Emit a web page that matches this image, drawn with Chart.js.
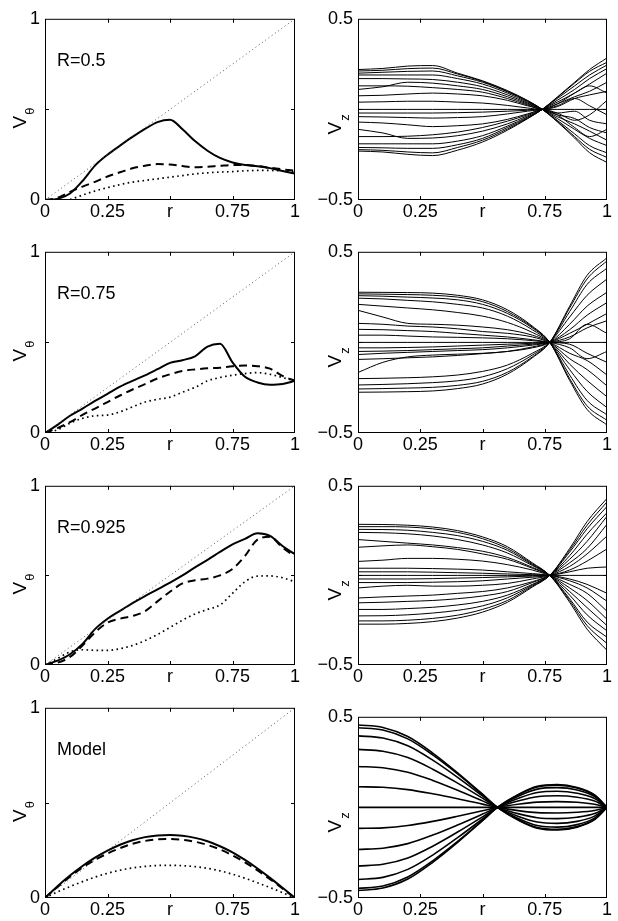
<!DOCTYPE html>
<html>
<head>
<meta charset="UTF-8" />
<script src="https://cdn.jsdelivr.net/npm/chart.js"></script>
<title>V_theta and V_z profiles</title>
<style>
  body { margin: 0; background: #fff; overflow: hidden; }
  #fig { position: relative; width: 618px; height: 921px; }
  #fig canvas { position: absolute; }
</style>
</head>
<body>
<div id="fig"></div>
<script>
// ---- data ----
const rV = [0, 0.05, 0.1, 0.15, 0.2, 0.25, 0.3, 0.35, 0.4, 0.45, 0.5, 0.55, 0.6, 0.65, 0.7, 0.75, 0.8, 0.85, 0.9, 0.95, 1];
const rDiag = [0, 1];
const diag = [0, 1];

const vt1Solid = [0, 0.006, 0.036, 0.105, 0.19, 0.25, 0.3, 0.348, 0.392, 0.43, 0.443, 0.39, 0.325, 0.272, 0.232, 0.207, 0.193, 0.186, 0.176, 0.16, 0.146];
const vt1Dash = [0, 0.012, 0.045, 0.074, 0.1, 0.13, 0.153, 0.175, 0.189, 0.198, 0.196, 0.187, 0.181, 0.184, 0.189, 0.193, 0.193, 0.187, 0.178, 0.169, 0.162];
const vt1Dot = [0, 0, 0.004, 0.027, 0.05, 0.068, 0.085, 0.099, 0.108, 0.117, 0.126, 0.135, 0.144, 0.15, 0.154, 0.157, 0.161, 0.163, 0.163, 0.16, 0.155];

const vt2Solid = [0, 0.045, 0.095, 0.135, 0.177, 0.216, 0.256, 0.288, 0.318, 0.352, 0.387, 0.402, 0.423, 0.477, 0.492, 0.39, 0.31, 0.279, 0.266, 0.27, 0.288];
const vt2Dash = [0, 0.027, 0.06, 0.1, 0.135, 0.171, 0.207, 0.24, 0.27, 0.301, 0.324, 0.342, 0.351, 0.357, 0.36, 0.368, 0.372, 0.369, 0.355, 0.315, 0.288];
const vt2Dot = [0, 0.018, 0.054, 0.081, 0.095, 0.099, 0.117, 0.144, 0.171, 0.186, 0.198, 0.225, 0.252, 0.288, 0.306, 0.319, 0.328, 0.333, 0.324, 0.306, 0.288];

const vt3Solid = [0, 0.024, 0.06, 0.118, 0.2, 0.258, 0.302, 0.345, 0.385, 0.422, 0.46, 0.5, 0.545, 0.587, 0.631, 0.673, 0.704, 0.735, 0.72, 0.664, 0.618];
const vt3Dash = [0, 0.013, 0.045, 0.109, 0.182, 0.236, 0.258, 0.273, 0.3, 0.355, 0.409, 0.455, 0.473, 0.482, 0.5, 0.536, 0.609, 0.7, 0.715, 0.655, 0.605];
const vt3Dot = [0, 0.036, 0.073, 0.085, 0.082, 0.082, 0.091, 0.109, 0.136, 0.17, 0.21, 0.25, 0.285, 0.31, 0.335, 0.4, 0.465, 0.496, 0.497, 0.487, 0.464];

const vtmSolid = [0, 0.062, 0.118, 0.168, 0.212, 0.249, 0.28, 0.304, 0.32, 0.329, 0.331, 0.327, 0.316, 0.298, 0.272, 0.24, 0.2, 0.155, 0.106, 0.054, 0];
const vtmDash = [0, 0.058, 0.112, 0.16, 0.2, 0.234, 0.262, 0.285, 0.3, 0.308, 0.31, 0.306, 0.296, 0.279, 0.255, 0.224, 0.187, 0.145, 0.099, 0.05, 0];
const vtmDot = [0, 0.032, 0.06, 0.086, 0.11, 0.13, 0.146, 0.158, 0.166, 0.171, 0.172, 0.17, 0.165, 0.156, 0.143, 0.125, 0.104, 0.08, 0.055, 0.028, 0];

const rZ1 = [0, 0.1, 0.2, 0.3, 0.4, 0.5, 0.6, 0.68, 0.74, 0.8, 0.87, 0.93, 1];
const vz1 = [
  [0.22, 0.226, 0.239, 0.242, 0.2, 0.158, 0.104, 0.05, 0, -0.068, -0.158, -0.239, -0.293],
  [0.212, 0.216, 0.225, 0.228, 0.195, 0.155, 0.1, 0.048, 0, -0.065, -0.15, -0.22, -0.265],
  [0.2, 0.205, 0.21, 0.212, 0.185, 0.15, 0.097, 0.045, 0, -0.06, -0.135, -0.2, -0.24],
  [0.19, 0.19, 0.19, 0.19, 0.17, 0.14, 0.09, 0.04, 0, -0.05, -0.11, -0.16, -0.2],
  [0.17, 0.17, 0.168, 0.165, 0.15, 0.125, 0.08, 0.035, 0, -0.04, -0.08, -0.12, -0.17],
  [0.13, 0.13, 0.128, 0.12, 0.11, 0.095, 0.06, 0.025, 0, 0.03, 0.09, 0.13, 0.09],
  [0.11, 0.125, 0.15, 0.145, 0.13, 0.11, 0.07, 0.03, 0, -0.03, -0.05, -0.1, -0.13],
  [0.075, 0.078, 0.085, 0.09, 0.085, 0.075, 0.05, 0.02, 0, -0.02, -0.01, -0.06, -0.08],
  [0.04, 0.042, 0.045, 0.045, 0.04, 0.035, 0.022, 0.008, 0, 0.02, 0.06, 0.02, -0.03],
  [0, 0, 0, 0, 0, 0, 0, 0, 0, 0, 0, 0, 0],
  [-0.02, -0.02, -0.02, -0.02, -0.018, -0.015, -0.01, -0.005, 0, -0.02, -0.06, -0.03, 0.05],
  [-0.04, -0.042, -0.045, -0.048, -0.045, -0.04, -0.025, -0.01, 0, 0.015, 0.06, 0.08, 0.1],
  [-0.07, -0.075, -0.085, -0.095, -0.09, -0.08, -0.055, -0.025, 0, 0.03, 0.07, 0.1, 0.15],
  [-0.11, -0.13, -0.16, -0.158, -0.145, -0.12, -0.08, -0.036, 0, 0.04, 0.09, 0.14, 0.2],
  [-0.15, -0.15, -0.148, -0.14, -0.125, -0.1, -0.065, -0.03, 0, -0.03, -0.1, -0.15, -0.11],
  [-0.19, -0.19, -0.19, -0.19, -0.175, -0.145, -0.092, -0.042, 0, 0.05, 0.11, 0.17, 0.225],
  [-0.21, -0.212, -0.215, -0.215, -0.195, -0.16, -0.1, -0.047, 0, 0.06, 0.13, 0.19, 0.245],
  [-0.222, -0.226, -0.235, -0.24, -0.21, -0.17, -0.108, -0.05, 0, 0.065, 0.145, 0.21, 0.26],
  [-0.23, -0.235, -0.248, -0.255, -0.225, -0.18, -0.115, -0.052, 0, 0.068, 0.15, 0.22, 0.284]
];

const rZ2 = [0, 0.1, 0.2, 0.3, 0.4, 0.5, 0.6, 0.7, 0.77, 0.85, 0.92, 1];
const vz2 = [
  [0.277, 0.276, 0.275, 0.272, 0.26, 0.235, 0.18, 0.09, 0, -0.21, -0.37, -0.456],
  [0.268, 0.266, 0.264, 0.26, 0.25, 0.225, 0.17, 0.085, 0, -0.2, -0.35, -0.43],
  [0.258, 0.255, 0.25, 0.245, 0.235, 0.21, 0.16, 0.08, 0, -0.18, -0.32, -0.4],
  [0.244, 0.24, 0.232, 0.224, 0.21, 0.19, 0.145, 0.07, 0, -0.15, -0.27, -0.36],
  [0.21, 0.2, 0.19, 0.18, 0.165, 0.145, 0.11, 0.055, 0, -0.12, -0.21, -0.3],
  [0.177, 0.14, 0.105, 0.1, 0.095, 0.085, 0.07, 0.04, 0, -0.09, -0.15, -0.24],
  [0.105, 0.1, 0.09, 0.085, 0.075, 0.06, 0.05, 0.03, 0, -0.06, -0.1, -0.18],
  [0.072, 0.07, 0.065, 0.06, 0.05, 0.04, 0.03, 0.015, 0, -0.03, -0.09, -0.05],
  [0.04, 0.04, 0.035, 0.03, 0.028, 0.025, 0.02, 0.01, 0, -0.01, -0.06, -0.11],
  [0, 0, 0, 0, 0, 0, 0, 0, 0, 0, 0, 0],
  [-0.03, -0.03, -0.028, -0.025, -0.02, -0.015, -0.01, -0.005, 0, 0.02, 0.1, 0.05],
  [-0.05, -0.048, -0.045, -0.04, -0.035, -0.03, -0.02, -0.01, 0, 0.03, 0.08, 0.12],
  [-0.067, -0.06, -0.055, -0.05, -0.045, -0.04, -0.03, -0.015, 0, 0.05, 0.1, 0.16],
  [-0.094, -0.09, -0.085, -0.08, -0.072, -0.062, -0.05, -0.025, 0, 0.07, 0.15, 0.22],
  [-0.166, -0.11, -0.08, -0.07, -0.065, -0.06, -0.05, -0.03, 0, 0.1, 0.2, 0.277],
  [-0.2, -0.198, -0.195, -0.19, -0.18, -0.16, -0.125, -0.06, 0, 0.14, 0.26, 0.35],
  [-0.235, -0.232, -0.228, -0.222, -0.212, -0.19, -0.145, -0.07, 0, 0.17, 0.32, 0.41],
  [-0.257, -0.255, -0.252, -0.248, -0.237, -0.215, -0.165, -0.08, 0, 0.19, 0.35, 0.45],
  [-0.275, -0.274, -0.272, -0.268, -0.255, -0.23, -0.175, -0.085, 0, 0.2, 0.37, 0.467]
];

const rZ3 = [0, 0.1, 0.2, 0.3, 0.4, 0.5, 0.6, 0.7, 0.77, 0.85, 0.92, 1];
const vz3 = [
  [0.285, 0.284, 0.28, 0.27, 0.25, 0.215, 0.16, 0.07, 0, -0.15, -0.3, -0.418],
  [0.272, 0.272, 0.27, 0.26, 0.24, 0.205, 0.15, 0.065, 0, -0.14, -0.28, -0.38],
  [0.257, 0.256, 0.252, 0.24, 0.222, 0.19, 0.14, 0.06, 0, -0.13, -0.26, -0.345],
  [0.24, 0.238, 0.232, 0.22, 0.2, 0.17, 0.125, 0.055, 0, -0.11, -0.22, -0.31],
  [0.2, 0.19, 0.18, 0.17, 0.155, 0.135, 0.1, 0.045, 0, -0.09, -0.18, -0.28],
  [0.157, 0.165, 0.17, 0.16, 0.145, 0.12, 0.09, 0.04, 0, -0.07, -0.14, -0.245],
  [0.078, 0.085, 0.095, 0.095, 0.09, 0.08, 0.06, 0.03, 0, -0.05, -0.1, -0.2],
  [0.04, 0.04, 0.04, 0.038, 0.035, 0.03, 0.02, 0.01, 0, -0.03, -0.07, -0.144],
  [0.02, 0.02, 0.02, 0.018, 0.015, 0.012, 0.008, 0.004, 0, -0.02, -0.05, -0.1],
  [0, 0, 0, 0, 0, 0, 0, 0, 0, 0, 0, 0],
  [-0.02, -0.02, -0.02, -0.018, -0.015, -0.012, -0.008, -0.004, 0, 0.02, 0.04, 0.047],
  [-0.04, -0.04, -0.04, -0.038, -0.035, -0.03, -0.02, -0.01, 0, 0.03, 0.08, 0.148],
  [-0.07, -0.06, -0.055, -0.06, -0.06, -0.055, -0.045, -0.02, 0, 0.05, 0.12, 0.22],
  [-0.126, -0.12, -0.115, -0.11, -0.1, -0.09, -0.07, -0.035, 0, 0.07, 0.15, 0.285],
  [-0.153, -0.15, -0.145, -0.14, -0.13, -0.115, -0.09, -0.04, 0, 0.09, 0.19, 0.33],
  [-0.19, -0.19, -0.185, -0.178, -0.165, -0.145, -0.11, -0.05, 0, 0.11, 0.23, 0.35],
  [-0.226, -0.225, -0.22, -0.21, -0.195, -0.17, -0.125, -0.055, 0, 0.13, 0.26, 0.385],
  [-0.254, -0.254, -0.25, -0.24, -0.222, -0.19, -0.14, -0.06, 0, 0.14, 0.28, 0.41],
  [-0.272, -0.272, -0.268, -0.258, -0.238, -0.205, -0.15, -0.065, 0, 0.15, 0.3, 0.43]
];

const rZ4 = [0, 0.1, 0.2, 0.3, 0.4, 0.5, 0.56, 0.65, 0.72, 0.8, 0.88, 0.95, 1];
const vz4 = [
  [0.455, 0.441, 0.391, 0.3, 0.191, 0.073, 0, -0.075, -0.115, -0.125, -0.109, -0.068, 0],
  [0.44, 0.427, 0.378, 0.29, 0.185, 0.07, 0, -0.073, -0.111, -0.121, -0.106, -0.066, 0],
  [0.395, 0.383, 0.34, 0.261, 0.166, 0.063, 0, -0.065, -0.1, -0.109, -0.095, -0.059, 0],
  [0.32, 0.31, 0.275, 0.211, 0.134, 0.051, 0, -0.053, -0.081, -0.088, -0.077, -0.048, 0],
  [0.226, 0.219, 0.194, 0.149, 0.095, 0.036, 0, -0.037, -0.057, -0.062, -0.054, -0.034, 0],
  [0.114, 0.111, 0.098, 0.075, 0.048, 0.018, 0, -0.019, -0.029, -0.031, -0.027, -0.017, 0],
  [0, 0, 0, 0, 0, 0, 0, 0, 0, 0, 0, 0, 0],
  [-0.116, -0.113, -0.1, -0.077, -0.049, -0.019, 0, 0.019, 0.029, 0.032, 0.028, 0.017, 0],
  [-0.232, -0.225, -0.2, -0.153, -0.097, -0.037, 0, 0.038, 0.059, 0.064, 0.056, 0.035, 0],
  [-0.324, -0.314, -0.279, -0.214, -0.136, -0.052, 0, 0.053, 0.082, 0.089, 0.078, 0.049, 0],
  [-0.398, -0.386, -0.342, -0.263, -0.167, -0.064, 0, 0.066, 0.101, 0.109, 0.096, 0.06, 0],
  [-0.447, -0.434, -0.384, -0.295, -0.188, -0.072, 0, 0.074, 0.113, 0.123, 0.107, 0.067, 0],
  [-0.459, -0.445, -0.395, -0.303, -0.193, -0.073, 0, 0.076, 0.116, 0.126, 0.11, 0.069, 0]
];

const xTickVals = [0, 0.25, 0.5, 0.75, 1];
const xTickText = ['0', '0.25', 'r', '0.75', '1'];
const vtTickVals = [0, 0.5, 1];
const vtTickText = ['0', '', '1'];
const vzTickVals = [-0.5, 0, 0.5];
const vzTickText = ['\u22120.5', '', '0.5'];

// ---- styles ----
const FONT = '"Liberation Sans", Arial, sans-serif';
const base = { pointRadius: 0, borderColor: '#000', fill: false, cubicInterpolationMode: 'monotone' };
const solid = { ...base, borderWidth: 2 };
const dashed = { ...base, borderWidth: 2, borderDash: [8, 5] };
const dotted = { ...base, borderWidth: 1.7, borderDash: [1.6, 3.4] };
const diagStyle = { ...base, borderColor: '#444', borderWidth: 0.9, borderDash: [1, 3] };
const thin = { ...base, borderWidth: 1 };
const modelLine = { ...base, borderWidth: 1.6 };

function series(xs, ys, style) {
  return { ...style, data: xs.map((x, i) => ({ x: x, y: ys[i] })) };
}

// box, inner ticks, rotated y label with subscript, panel note
const framePlugin = {
  id: 'frame',
  afterDraw(chart, args, o) {
    const { ctx, chartArea: a, scales: { x, y } } = chart;
    ctx.save();
    ctx.strokeStyle = '#000';
    ctx.lineWidth = 1;
    ctx.strokeRect(a.left + 0.5, a.top + 0.5, a.right - a.left - 1, a.bottom - a.top - 1);
    ctx.beginPath();
    xTickVals.slice(1, -1).forEach(v => {
      const px = Math.round(x.getPixelForValue(v)) + 0.5;
      ctx.moveTo(px, a.bottom); ctx.lineTo(px, a.bottom - 4);
      ctx.moveTo(px, a.top); ctx.lineTo(px, a.top + 4);
    });
    o.yTicks.slice(1, -1).forEach(v => {
      const py = Math.round(y.getPixelForValue(v)) + 0.5;
      ctx.moveTo(a.left, py); ctx.lineTo(a.left + 4, py);
      ctx.moveTo(a.right, py); ctx.lineTo(a.right - 4, py);
    });
    ctx.stroke();

    ctx.fillStyle = '#000';
    if (o.note) {
      ctx.font = '18px ' + FONT;
      ctx.textBaseline = 'alphabetic';
      ctx.fillText(o.note, a.left + 12, a.top + 47);
    }
    const my = y.getPixelForValue(o.yTicks[1]);
    ctx.translate(a.left - o.labX, my + o.labY);
    ctx.rotate(-Math.PI / 2);
    ctx.font = '19px ' + FONT;
    ctx.textAlign = 'left';
    ctx.textBaseline = 'alphabetic';
    ctx.fillText('V', 0, 0);
    const w = ctx.measureText('V').width;
    ctx.font = '13px ' + FONT;
    ctx.fillText(o.sub, w + 1, 8);
    ctx.restore();
  }
};

// ---- panels ----
const L = 45, T = 12, R = 10, B = 23;
const panels = [
  { left: 45, top: 15, w: 250, h: 185, kind: 'vt', note: 'R=0.5', sets: [vt1Solid, vt1Dash, vt1Dot] },
  { left: 358, top: 15, w: 249, h: 185, kind: 'vz', grid: rZ1, lines: vz1, style: thin },
  { left: 45, top: 248, w: 250, h: 185, kind: 'vt', note: 'R=0.75', sets: [vt2Solid, vt2Dash, vt2Dot] },
  { left: 358, top: 248, w: 249, h: 185, kind: 'vz', grid: rZ2, lines: vz2, style: thin },
  { left: 45, top: 482, w: 250, h: 183, kind: 'vt', note: 'R=0.925', sets: [vt3Solid, vt3Dash, vt3Dot] },
  { left: 358, top: 482, w: 249, h: 183, kind: 'vz', grid: rZ3, lines: vz3, style: thin },
  { left: 45, top: 704, w: 250, h: 194, kind: 'vt', note: 'Model', sets: [vtmSolid, vtmDash, vtmDot] },
  { left: 358, top: 713, w: 249, h: 185, kind: 'vz', grid: rZ4, lines: vz4, style: modelLine }
];

const fig = document.getElementById('fig');

panels.forEach(p => {
  const cv = document.createElement('canvas');
  const cw = p.w + L + R, ch = p.h + T + B;
  cv.width = cw; cv.height = ch;
  cv.style.left = (p.left - L) + 'px';
  cv.style.top = (p.top - T) + 'px';
  cv.style.width = cw + 'px';
  cv.style.height = ch + 'px';
  fig.appendChild(cv);

  const isVt = p.kind === 'vt';
  const yVals = isVt ? vtTickVals : vzTickVals;
  const yText = isVt ? vtTickText : vzTickText;

  let datasets;
  if (isVt) {
    datasets = [
      series(rDiag, diag, diagStyle),
      series(rV, p.sets[0], solid),
      series(rV, p.sets[1], dashed),
      series(rV, p.sets[2], dotted)
    ];
  } else {
    datasets = p.lines.map(ln => series(p.grid, ln, p.style));
  }

  new Chart(cv, {
    type: 'line',
    data: { datasets: datasets },
    plugins: [framePlugin],
    options: {
      responsive: false,
      animation: false,
      layout: { padding: { left: 0, top: T, right: R, bottom: 0 } },
      plugins: {
        legend: { display: false },
        tooltip: { enabled: false },
        frame: {
          yTicks: yVals,
          sub: isVt ? '\u03b8' : 'z',
          labX: isVt ? 19 : 17,
          labY: isVt ? 19 : 25,
          note: p.note
        }
      },
      scales: {
        x: {
          type: 'linear', min: 0, max: 1,
          grid: { display: false, drawTicks: false },
          border: { display: false },
          afterBuildTicks: s => { s.ticks = xTickVals.map(v => ({ value: v })); },
          afterFit: s => { s.height = B; },
          ticks: {
            autoSkip: false, maxRotation: 0, padding: 1, color: '#000',
            font: { family: FONT, size: 18 },
            callback: v => xTickText[xTickVals.indexOf(v)]
          }
        },
        y: {
          type: 'linear', min: yVals[0], max: yVals[2],
          grid: { display: false, drawTicks: false },
          border: { display: false },
          afterBuildTicks: s => { s.ticks = yVals.map(v => ({ value: v })); },
          afterFit: s => { s.width = L; },
          ticks: {
            autoSkip: false, padding: 5, color: '#000',
            font: { family: FONT, size: 18 },
            callback: v => yText[yVals.indexOf(v)]
          }
        }
      }
    }
  });
});
</script>
</body>
</html>
